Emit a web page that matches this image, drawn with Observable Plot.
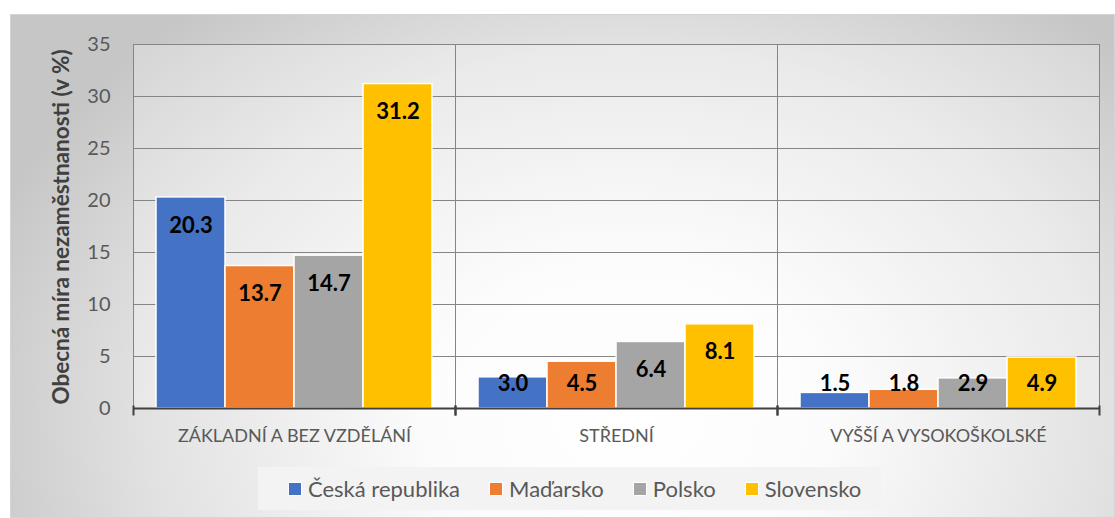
<!DOCTYPE html>
<html>
<head>
<meta charset="utf-8">
<script src="https://cdn.jsdelivr.net/npm/d3@7"></script>
<script src="https://cdn.jsdelivr.net/npm/@observablehq/plot@0.6"></script>
<style>
  html, body { margin: 0; padding: 0; background: #ffffff; }
  #wrap { position: relative; width: 1115px; height: 518px; overflow: hidden; font-family: Lato, "Open Sans", sans-serif; }
  #bg { position: absolute; left: 10px; top: 14px; width: 1105px; height: 504px; box-sizing: border-box;
        border: 1px solid #d4d4d4;
        background: radial-gradient(ellipse 62% 105% at 56% 80%, #ffffff 0%, #fbfbfb 30%, #e2e2e2 70%, #c6c6c6 100%); }
  #plotbg { position: absolute; left: 133px; top: 44px; width: 966px; height: 364px; background: rgba(255,255,255,0.28); }
  #chart { position: absolute; left: 0; top: 0; }
  #ytitle { position: absolute; left: 60px; top: 227px; transform: translate(-50%, -50%) rotate(-90deg);
            white-space: nowrap; font-weight: bold; font-size: 22.5px; color: #404040; }
  #legend { position: absolute; left: 258px; top: 467px; width: 623px; height: 43px; box-sizing: border-box;
            background: #f3f3f3; display: flex; align-items: center; padding-left: 30px; gap: 29px;
            font-size: 22px; color: #595959; }
  .item { display: flex; align-items: center; }
  .sw { width: 12px; height: 12px; border: 1px solid #fff; margin-right: 6px; }
</style>
</head>
<body>
<div id="wrap">
  <div id="bg"></div>
  <div id="plotbg"></div>
  <div id="chart"></div>
  <div id="ytitle">Obecná míra nezaměstnanosti (v %)</div>
  <div id="legend"></div>
</div>
<script>
const groups = ["ZÁKLADNÍ A BEZ VZDĚLÁNÍ", "STŘEDNÍ", "VYŠŠÍ A VYSOKOŠKOLSKÉ"];
const countries = ["Česká republika", "Maďarsko", "Polsko", "Slovensko"];
const ceskaRepublika = [20.3, 3.0, 1.5];
const madarsko = [13.7, 4.5, 1.8];
const polsko = [14.7, 6.4, 2.9];
const slovensko = [31.2, 8.1, 4.9];
const yTicks = [0, 5, 10, 15, 20, 25, 30, 35];
const colors = ["#4472C4", "#ED7D31", "#A5A5A5", "#FFC000"];

const series = [ceskaRepublika, madarsko, polsko, slovensko];
const data = [];
groups.forEach((g, gi) => countries.forEach((c, ci) => data.push({group: g, country: c, value: series[ci][gi]})));

const plot = Plot.plot({
  width: 1115,
  height: 460,
  marginTop: 44,
  marginLeft: 133,
  marginRight: 16,
  marginBottom: 52,
  style: {fontFamily: "Lato, 'Open Sans', sans-serif", color: "#595959", background: "transparent"},
  fx: {domain: groups, padding: 0, label: null},
  x: {domain: countries, paddingInner: 0, paddingOuter: 0.33, axis: null},
  y: {domain: [0, 35], label: null},
  color: {domain: countries, range: colors},
  marks: [
    Plot.gridY({ticks: yTicks, stroke: "#858585", strokeOpacity: 1}),
    Plot.frame({stroke: "#858585"}),
    Plot.barY(data, {fx: "group", x: "country", y: "value", fill: "country", stroke: "#ffffff", strokeWidth: 1.5}),
    Plot.ruleY([0], {stroke: "#404040", strokeWidth: 2}),
    Plot.frame({anchor: "left", stroke: "#404040", strokeWidth: 2, insetTop: 362, insetBottom: -6}),
    Plot.frame({anchor: "right", stroke: "#404040", strokeWidth: 2, insetTop: 362, insetBottom: -6}),
    Plot.text(data, {fx: "group", x: "country", y: d => Math.max(d.value - 2.7, 2.4),
      text: d => d.value.toFixed(1), fontWeight: "bold", fontSize: 22, fill: "#000000"}),
    Plot.axisY({ticks: yTicks, tickSize: 0, tickPadding: 23, fontSize: 20, label: null}),
    Plot.axisFx({anchor: "bottom", tickSize: 0, tickPadding: 21, fontSize: 18, label: null})
  ]
});
document.getElementById("chart").appendChild(plot);

const legend = document.getElementById("legend");
countries.forEach((c, i) => {
  const item = document.createElement("div");
  item.className = "item";
  const sw = document.createElement("div");
  sw.className = "sw";
  sw.style.background = colors[i];
  const t = document.createElement("span");
  t.textContent = c;
  item.appendChild(sw);
  item.appendChild(t);
  legend.appendChild(item);
});
</script>
</body>
</html>
